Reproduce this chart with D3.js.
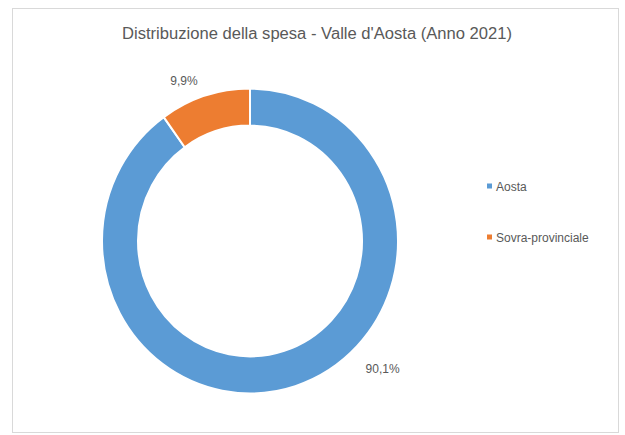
<!DOCTYPE html>
<html><head><meta charset="utf-8">
<script src="https://cdn.jsdelivr.net/npm/d3@7"></script>
<style>html,body{margin:0;padding:0;background:#fff;}svg{display:block;}</style>
</head><body>
<script>
const categories = ["Aosta", "Sovra-provinciale"];
const values = [90.1, 9.9];
const valueLabels = ["90,1%", "9,9%"];
const colors = ["#5B9BD5", "#ED7D31"];
const title = "Distribuzione della spesa - Valle d'Aosta (Anno 2021)";

const W = 625, H = 435;
const svg = d3.select("body").append("svg").attr("width", W).attr("height", H);
svg.append("rect").attr("x", 12.5).attr("y", 8.5).attr("width", 606).attr("height", 424)
  .attr("fill", "#fff").attr("stroke", "#d9d9d9");

const font = "Liberation Sans, Arial, sans-serif";
svg.append("text").attr("x", 317).attr("y", 39).attr("text-anchor", "middle")
  .attr("font-family", font).attr("font-size", 16).attr("fill", "#595959").text(title)
  .attr("textLength", 390).attr("lengthAdjust", "spacingAndGlyphs");

const cx = 250, cy = 241, rOuter = 148, rInner = 112, sy = 1.03;
const pie = d3.pie().sort(null).value(d => d)(values);
const arc = d3.arc().innerRadius(rInner).outerRadius(rOuter);
const g = svg.append("g").attr("transform", `translate(${cx},${cy}) scale(1,${sy})`);
g.selectAll("path").data(pie).join("path").attr("d", arc)
  .attr("fill", (d, i) => colors[i]).attr("stroke", "#fff").attr("stroke-width", 2);

// label placement (polar: angle shift in degrees, radius)
const labelShift = [-28.3, -4.6];
const labelRadius = [184, 173];
const lg = svg.append("g").attr("transform", `translate(${cx},${cy})`);
lg.selectAll("text").data(pie).join("text")
  .attr("transform", (d, i) => {
    const a = (d.startAngle + d.endAngle) / 2 + labelShift[i] * Math.PI / 180;
    return `translate(${Math.sin(a) * labelRadius[i]},${-Math.cos(a) * labelRadius[i] + 4})`;
  })
  .attr("text-anchor", "middle").attr("font-family", font).attr("font-size", 12)
  .attr("fill", "#595959").text((d, i) => valueLabels[i]);

const leg = svg.append("g").attr("transform", "translate(487,186)");
const items = leg.selectAll("g").data(categories).join("g")
  .attr("transform", (d, i) => `translate(0,${i * 51})`);
items.append("rect").attr("x", 0).attr("y", -2.5).attr("width", 5).attr("height", 5)
  .attr("fill", (d, i) => colors[i]);
items.append("text").attr("x", 9).attr("y", 4.5).attr("font-family", font).attr("font-size", 12)
  .attr("fill", "#595959").text(d => d);
</script>
</body></html>
